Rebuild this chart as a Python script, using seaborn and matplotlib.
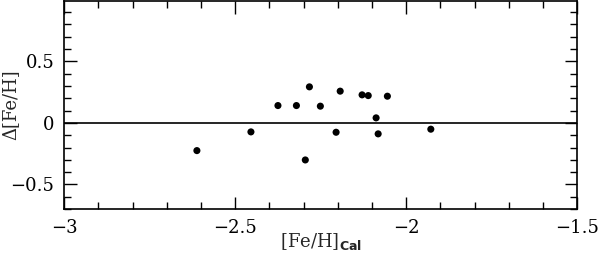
import numpy as np
import pandas as pd
import seaborn as sns
import matplotlib
matplotlib.use("Agg")
from matplotlib import pyplot as plt
from matplotlib.ticker import MultipleLocator, FuncFormatter

sns.set_style("ticks")
plt.rcParams['font.family'] = ['DejaVu Serif']
plt.rcParams['mathtext.fontset'] = 'dejavusans'

feh_cal = [-2.612, -2.454, -2.375, -2.321, -2.283, -2.295, -2.251, -2.193,
           -2.205, -2.129, -2.111, -2.055, -2.088, -2.082, -1.928]
delta_feh = [-0.225, -0.073, 0.141, 0.141, 0.293, -0.301, 0.136, 0.258,
             -0.076, 0.228, 0.222, 0.217, 0.041, -0.089, -0.051]

df = pd.DataFrame({'feh_cal': feh_cal, 'delta': delta_feh})

fig = plt.figure(figsize=(6, 2.67), dpi=100)
ax = fig.add_axes([0.107, 0.217, 0.855, 0.779])

sns.scatterplot(data=df, x='feh_cal', y='delta', color='black', s=26,
                edgecolor='none', ax=ax, legend=False)
ax.axhline(0, color='black', lw=1.2)

ax.set_xlim(-3, -1.5)
ax.set_ylim(-0.7, 0.99)
ax.xaxis.set_major_locator(MultipleLocator(0.5))
ax.xaxis.set_minor_locator(MultipleLocator(0.1))
ax.yaxis.set_major_locator(MultipleLocator(0.5))
ax.yaxis.set_minor_locator(MultipleLocator(0.1))


def fmt(v, pos):
    if abs(v) < 1e-9:
        return '0'
    s = ('%g' % v).replace('-', '\u2212')
    return s


ax.xaxis.set_major_formatter(FuncFormatter(fmt))
ax.yaxis.set_major_formatter(FuncFormatter(fmt))
ax.tick_params(which='both', direction='in', top=True, right=True,
               labelsize=13, width=1, color='black', labelcolor='black')
ax.tick_params(which='major', length=9, pad=7)
ax.tick_params(which='minor', length=5)
for sp in ax.spines.values():
    sp.set_linewidth(1.2)
    sp.set_color('black')

ax.set_xlabel(r'[Fe/H]$_{\mathbf{Cal}}$', fontsize=13)
ax.set_ylabel('\u0394[Fe/H]', fontsize=13)
ax.xaxis.set_label_coords(0.5, -0.105)
ax.yaxis.set_label_coords(-0.088, 0.5)

fig.savefig('out.png', dpi=100)
